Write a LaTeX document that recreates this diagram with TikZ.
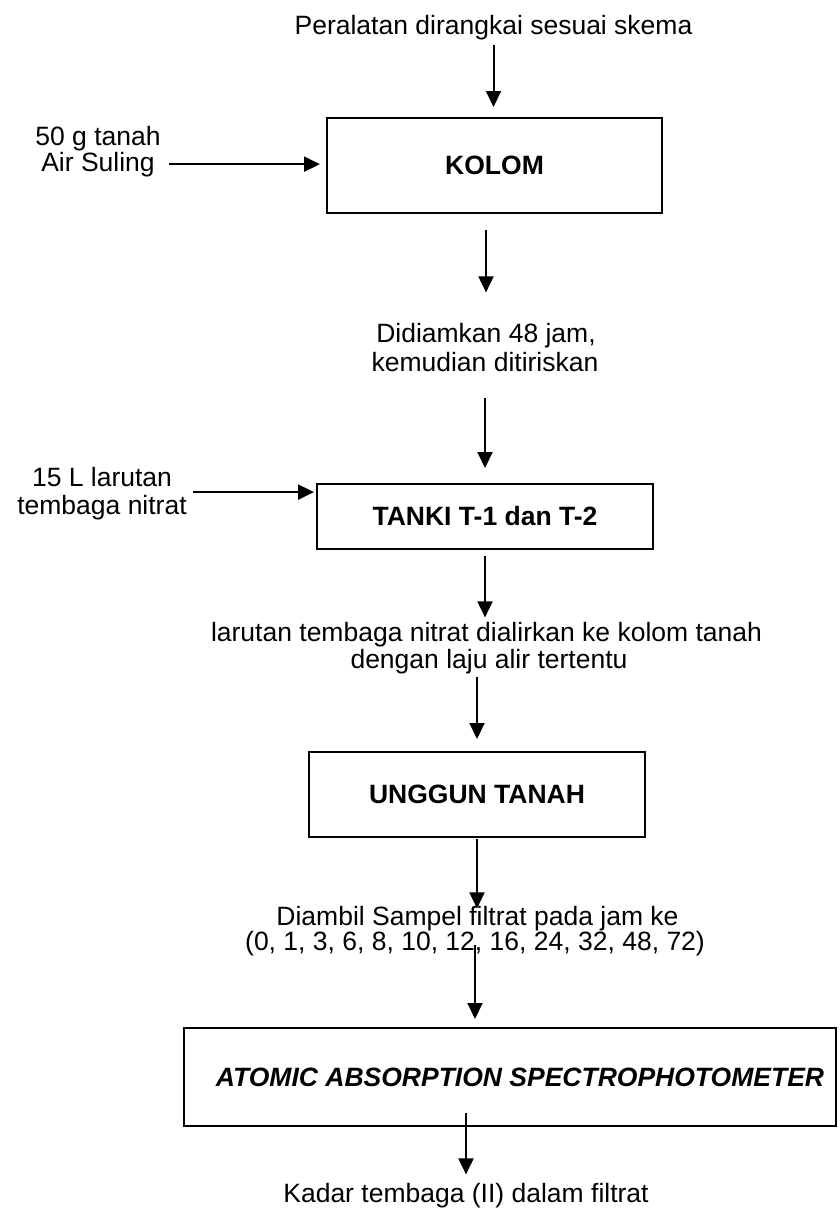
\documentclass[tikz,border=0pt]{standalone}
\usepackage{fontspec}
\setmainfont{Liberation Sans}
\usetikzlibrary{arrows.meta,calc}
\begin{document}
\begin{tikzpicture}[x=0.5pt,y=-0.5pt,
  txt/.style={font=\fontsize{13.25pt}{15pt}\selectfont, inner sep=0pt, anchor=base},
  procbox/.style={draw, line width=1pt, font=\fontsize{13.25pt}{15pt}\selectfont\bfseries, inner sep=0pt},
  arr/.style={line width=1pt, -{Triangle[length=8pt,width=7.5pt]}}]
\path[use as bounding box] (0,0) rectangle (840,1210);
% texts
\node[txt] (title) at (493.5,34.5) {Peralatan dirangkai sesuai skema};
\node[procbox, minimum width=167.5pt, minimum height=47.75pt] (kolom) at (494.5,165.25) {KOLOM};
\node[txt] (in1a) at (98,145) {50 g tanah};
\node[txt] (in1b) at (98,171) {Air Suling};
\node[txt] (d1a) at (486,342.5) {Didiamkan 48 jam,};
\node[txt] (d1b) at (485,371) {kemudian ditiriskan};
\node[procbox, minimum width=168pt, minimum height=32.5pt] (tanki) at (485,516) {TANKI T-1 dan T-2};
\node[txt] (in2a) at (102,486.5) {15 L larutan};
\node[txt] (in2b) at (102,514) {tembaga nitrat};
\node[txt] (l3a) at (486.5,641) {larutan tembaga nitrat dialirkan ke kolom tanah};
\node[txt] (l3b) at (489,668) {dengan laju alir tertentu};
\node[procbox, minimum width=168pt, minimum height=42.5pt] (unggun) at (477,794) {UNGGUN TANAH};
\node[txt] (l4a) at (477.5,925) {Diambil Sampel filtrat pada jam ke};
\node[txt] (l4b) at (475,950) {(0, 1, 3, 6, 8, 10, 12, 16, 24, 32, 48, 72)};
\node[procbox, font=\fontsize{13.25pt}{15pt}\selectfont\bfseries\itshape, minimum width=326pt, minimum height=49pt] (aas) at (510,1077) {\hspace*{10pt}ATOMIC ABSORPTION SPECTROPHOTOMETER};
\node[txt] (out) at (466,1202.5) {Kadar tembaga (II) dalam filtrat};
% connectors
\draw[arr, shorten <=2.45pt, shorten >=4.75pt] (title.south) -- (title.south |- kolom.north);
\draw[arr, shorten <=8pt, shorten >=15.25pt] (kolom.south -| d1a.north) -- (d1a.north);
\draw[arr, shorten <=13pt, shorten >=7.25pt] (d1b.south) -- (d1b.south |- tanki.north);
\draw[arr, shorten <=3.25pt, shorten >=2pt] (tanki.south) -- (tanki.south |- l3a.north);
\draw[arr, shorten <=1.7pt, shorten >=5.75pt] (unggun.north |- l3b.south) -- (unggun.north);
\draw[arr, shorten <=0.75pt, shorten >=-1.5pt] (unggun.south) -- (unggun.south |- l4a.north);
\draw[arr, shorten <=-5.3pt, shorten >=4pt] (l4b.south) -- (l4b.south |- aas.north);
\draw[arr, shorten <=-7pt, shorten >=4.25pt] (out.north |- aas.south) -- (out.north);
\draw[arr, shorten <=7.15pt, shorten >=3pt] (in1b.east) -- (in1b.east -| kolom.west);
\coordinate (in2m) at ($(in2a.east)!0.5!(in2b.east)$);
\draw[arr, shorten <=6.7pt, shorten >=1pt] (in2m) -- (in2m -| tanki.west);
\end{tikzpicture}
\end{document}
